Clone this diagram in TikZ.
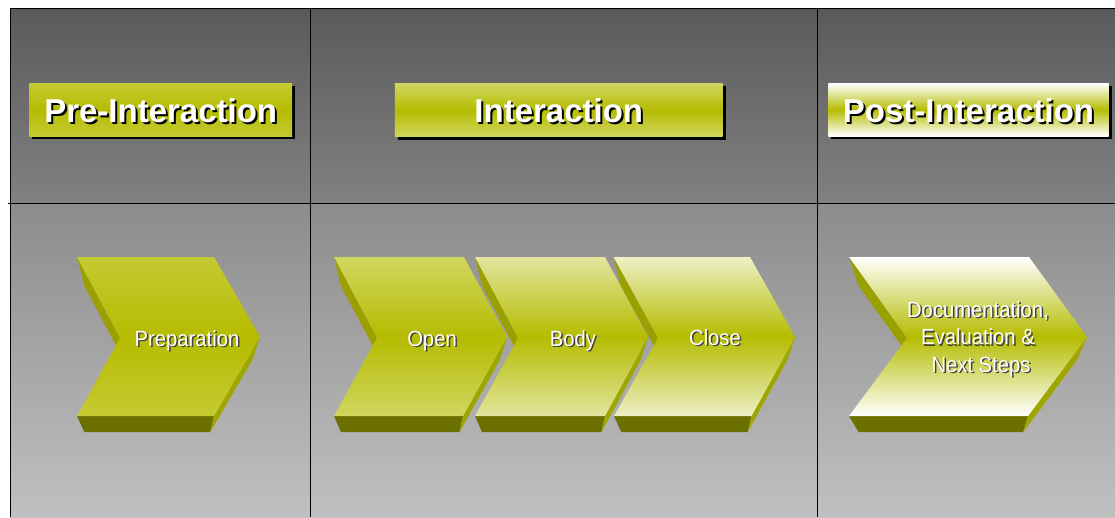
\documentclass[tikz,border=0pt]{standalone}
\usepackage{fontspec}
\setmainfont{Liberation Sans}
\newfontfamily\chfont{Liberation Sans}[FakeStretch=0.92]
\usetikzlibrary{calc}
\definecolor{olv}{HTML}{B5BC00}
\definecolor{olvA}{HTML}{C5CA33}
\definecolor{olvB}{HTML}{D1D660}
\definecolor{olvC}{HTML}{E2E59E}
\definecolor{olvD}{HTML}{EEF0C6}
\definecolor{botf}{HTML}{6B7000}
\definecolor{sidef}{HTML}{A0A600}
\definecolor{sideg}{HTML}{9AA000}
\definecolor{bgA}{HTML}{5A5A5A}
\definecolor{bgB}{HTML}{818181}
\definecolor{bgC}{HTML}{8C8C8C}
\definecolor{bgD}{HTML}{C0C0C0}
\newcommand\chev[8]{%
  \coordinate (#1-tl) at (#2,257);
  \coordinate (#1-tr) at (#3,257);
  \coordinate (#1-tip) at (#4,337);
  \coordinate (#1-br) at (#5,416);
  \coordinate (#1-bl) at (#6,416);
  \coordinate (#1-n) at (#7,338);
  \coordinate (#1-vp) at ({(#2+#4)/2},616);
  \coordinate (#1-tlb) at ($(#1-tl)!0.08!(#1-vp)$);
  \coordinate (#1-nb) at ($(#1-n)!0.08!(#1-vp)$);
  \coordinate (#1-tipb) at ($(#1-tip)!0.08!(#1-vp)$);
  \coordinate (#1-brb) at ($(#1-br)!0.08!(#1-vp)$);
  \coordinate (#1-blb) at ($(#1-bl)!0.08!(#1-vp)$);
  \fill[botface] (#1-bl) -- (#1-br) -- (#1-brb) -- (#1-blb) -- cycle;
  \fill[sideface] (#1-tip) -- (#1-br) -- (#1-brb) -- (#1-tipb) -- cycle;
  \fill[sideface2] (#1-tl) -- (#1-n) -- (#1-nb) -- (#1-tlb) -- cycle;
  \shade[#8] (#1-tl) -- (#1-tr) -- (#1-tip) -- (#1-br) -- (#1-bl) -- (#1-n) -- cycle;
}
\begin{document}
\begin{tikzpicture}[x=1pt,y=-1pt,
  frame/.style={draw=black, line width=1pt},
  botface/.style={fill=botf},
  sideface/.style={fill=sidef},
  sideface2/.style={fill=sideg},
  hdbox/.style={inner sep=0pt, outer sep=0pt},
  hdtxt/.style={font=\fontsize{33}{36}\selectfont\bfseries, text=white, inner sep=0pt, anchor=base},
  hdshd/.style={hdtxt, text=black},
  chtxt/.style={font=\chfont\fontsize{22}{27.5}\selectfont, text=white, inner sep=0pt, anchor=base},
  chshd/.style={chtxt, text=black!75},
  grad/.style={top color=#1, bottom color=#1, middle color=olv}
]
\useasboundingbox (0,0) rectangle (1115,517);
\fill[white] (0,0) rectangle (1115,517);
% background
\shade[top color=bgA, bottom color=bgB] (10,8) rectangle (1115,203);
\shade[top color=bgC, bottom color=bgD] (10,203) rectangle (1115,517);
\draw[frame] (10,517) -- (10,8) -- (1115,8);
\draw[frame] (8,203) -- (1115,203);
\draw[frame] (310,8) -- (310,517);
\draw[frame] (817,8) -- (817,517);
% header boxes
\fill[black] (32.3,86.3) rectangle (295,139);
\node[hdbox, minimum width=262.7pt, minimum height=52.7pt, grad=olvA] (prebox) at (160.7,109.7) {};
\fill[black] (398,86.3) rectangle (726,140);
\node[hdbox, minimum width=327.7pt, minimum height=53.3pt, grad=olvB] (intbox) at (558.8,110) {};
\fill[black] (831.3,86.3) rectangle (1111.7,139);
\node[hdbox, minimum width=280.3pt, minimum height=52.7pt, grad=white] (postbox) at (968.5,109.7) {};
\node[hdshd] (pre-s) at (162.7,124.5) {Pre-Interaction};
\node[hdtxt] (pre-t) at (160.7,122.5) {Pre-Interaction};
\node[hdshd] (int-s) at (560.8,124.5) {Interaction};
\node[hdtxt] (int-t) at (558.8,122.5) {Interaction};
\node[hdshd] (post-s) at (970.5,124.5) {Post-Interaction};
\node[hdtxt] (post-t) at (968.5,122.5) {Post-Interaction};
% chevrons
\chev{prep}{77}{214}{260}{214}{77}{120}{grad=olvA}
\chev{open}{334}{464}{507}{463}{334}{377}{grad=olvB}
\chev{body}{475}{605}{648}{605}{475}{518}{grad=olvC}
\chev{close}{613.5}{750}{795}{751.5}{614}{658}{grad=olvD}
\chev{doc}{849}{1029}{1087}{1028}{849}{907}{grad=white}
% chevron labels
\node[chshd] (prep-s) at (188.5,347.5) {Preparation};
\node[chtxt] (prep-t) at (187,346) {Preparation};
\node[chshd] (open-s) at (433.5,347.5) {Open};
\node[chtxt] (open-t) at (432,346) {Open};
\node[chshd] (body-s) at (574.5,347.5) {Body};
\node[chtxt] (body-t) at (573,346) {Body};
\node[chshd] (close-s) at (716.5,346.5) {Close};
\node[chtxt] (close-t) at (715,345) {Close};
\node[chshd, align=center, anchor=center] (doc-s) at (979.5,340.5) {Documentation,\\Evaluation \&\\\hspace*{6pt}Next Steps};
\node[chtxt, align=center, anchor=center] (doc-t) at (978,339) {Documentation,\\Evaluation \&\\\hspace*{6pt}Next Steps};
\end{tikzpicture}
\end{document}
